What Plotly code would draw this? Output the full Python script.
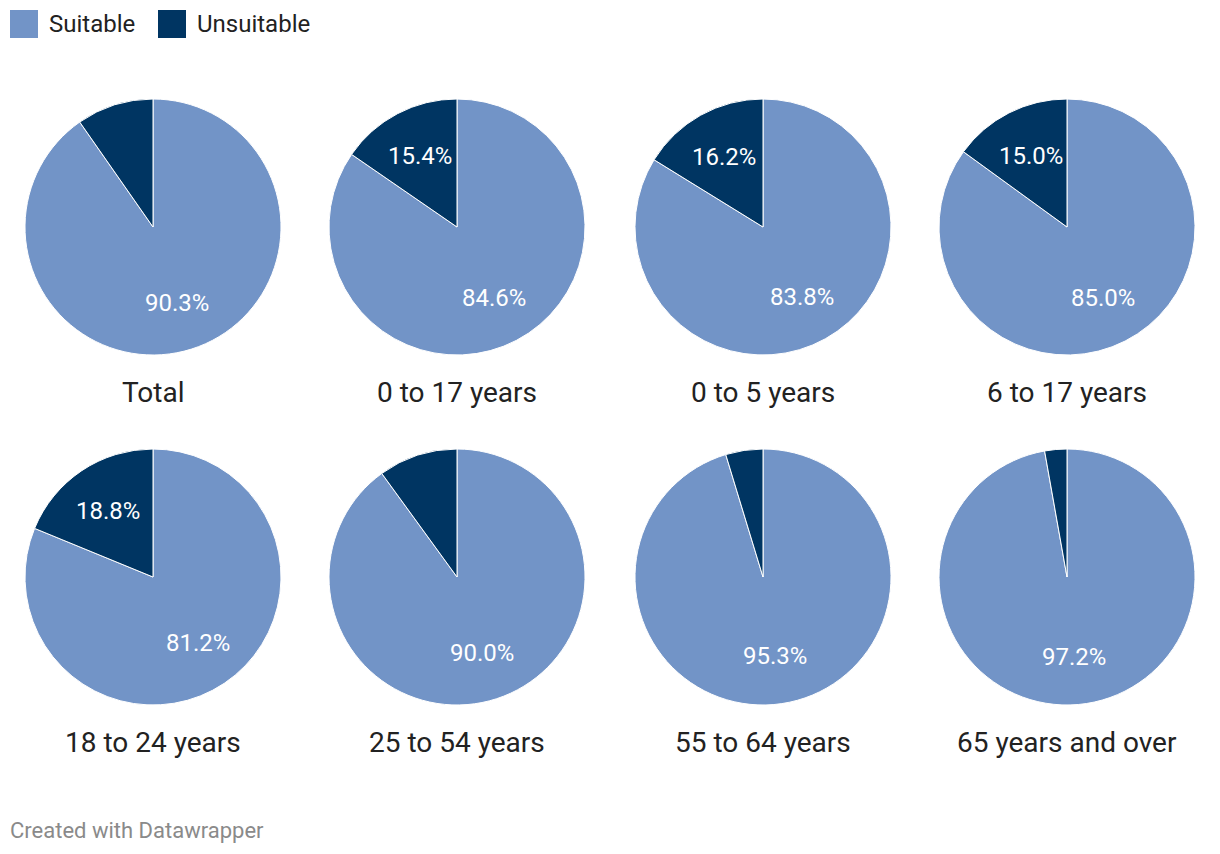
import math
import plotly.graph_objects as go

groups = ["Total", "0 to 17 years", "0 to 5 years", "6 to 17 years",
          "18 to 24 years", "25 to 54 years", "55 to 64 years", "65 years and over"]
suitable = [90.3, 84.6, 83.8, 85.0, 81.2, 90.0, 95.3, 97.2]
unsuitable = [9.7, 15.4, 16.2, 15.0, 18.8, 10.0, 4.7, 2.8]
categories = ["Suitable", "Unsuitable"]
colors = ["#7294c7", "#003562"]

OFF = 8  # page body margin
W, H = 1220 - OFF, 854 - OFF
cx_list = [153, 457, 763, 1067]
cy_list = [227, 577]
R = 128
LABEL_R = 0.625


def px(x):
    return (x - OFF) / W


def py(y):
    return 1 - (y - OFF) / H


fig = go.Figure()
for i, g in enumerate(groups):
    cx = cx_list[i % 4]
    cy = cy_list[i // 4]
    vals = [suitable[i], unsuitable[i]]
    fig.add_trace(go.Pie(
        labels=categories, values=vals,
        textinfo="none",
        sort=False, direction="clockwise", rotation=0,
        marker=dict(colors=colors, line=dict(color="white", width=1)),
        domain=dict(x=[px(cx - R), px(cx + R)], y=[py(cy + R), py(cy - R)]),
        hoverinfo="skip", showlegend=False,
    ))
    # value labels at the slice mid-angle (only slices >= 15%)
    total = sum(vals)
    cum = 0.0
    for v in vals:
        mid = (cum + v / 2) / total * 2 * math.pi
        cum += v
        if v < 15:
            continue
        lx = cx + LABEL_R * R * math.sin(mid)
        ly = cy - LABEL_R * R * math.cos(mid)
        fig.add_annotation(x=px(lx), y=py(ly), xref="paper", yref="paper",
                           text=f"{v:.1f}%", showarrow=False,
                           xanchor="center", yanchor="middle",
                           font=dict(family="Roboto", size=24, color="white"))
    fig.add_annotation(x=px(cx), y=py(cy + 165), xref="paper", yref="paper",
                       text=g, showarrow=False, xanchor="center", yanchor="middle",
                       font=dict(family="Roboto", size=28, color="#222222"))

# legend
leg_x = [10, 158]
for j, c in enumerate(categories):
    x0 = leg_x[j]
    fig.add_shape(type="rect", xref="paper", yref="paper",
                  x0=px(x0), x1=px(x0 + 28), y0=py(38), y1=py(10),
                  fillcolor=colors[j], line=dict(width=0))
    fig.add_annotation(x=px(x0 + 37), y=py(24), xref="paper", yref="paper",
                       text=c, showarrow=False, xanchor="left", yanchor="middle",
                       font=dict(family="Roboto", size=24, color="#222222"))

fig.add_annotation(x=px(8), y=py(830), xref="paper", yref="paper",
                   text="Created with Datawrapper", showarrow=False,
                   xanchor="left", yanchor="middle",
                   font=dict(family="Roboto", size=22, color="#8a8a8a"))

fig.update_layout(width=W, height=H, margin=dict(l=0, r=0, t=0, b=0),
                  paper_bgcolor="white", plot_bgcolor="white")
fig.write_html("out.html")
